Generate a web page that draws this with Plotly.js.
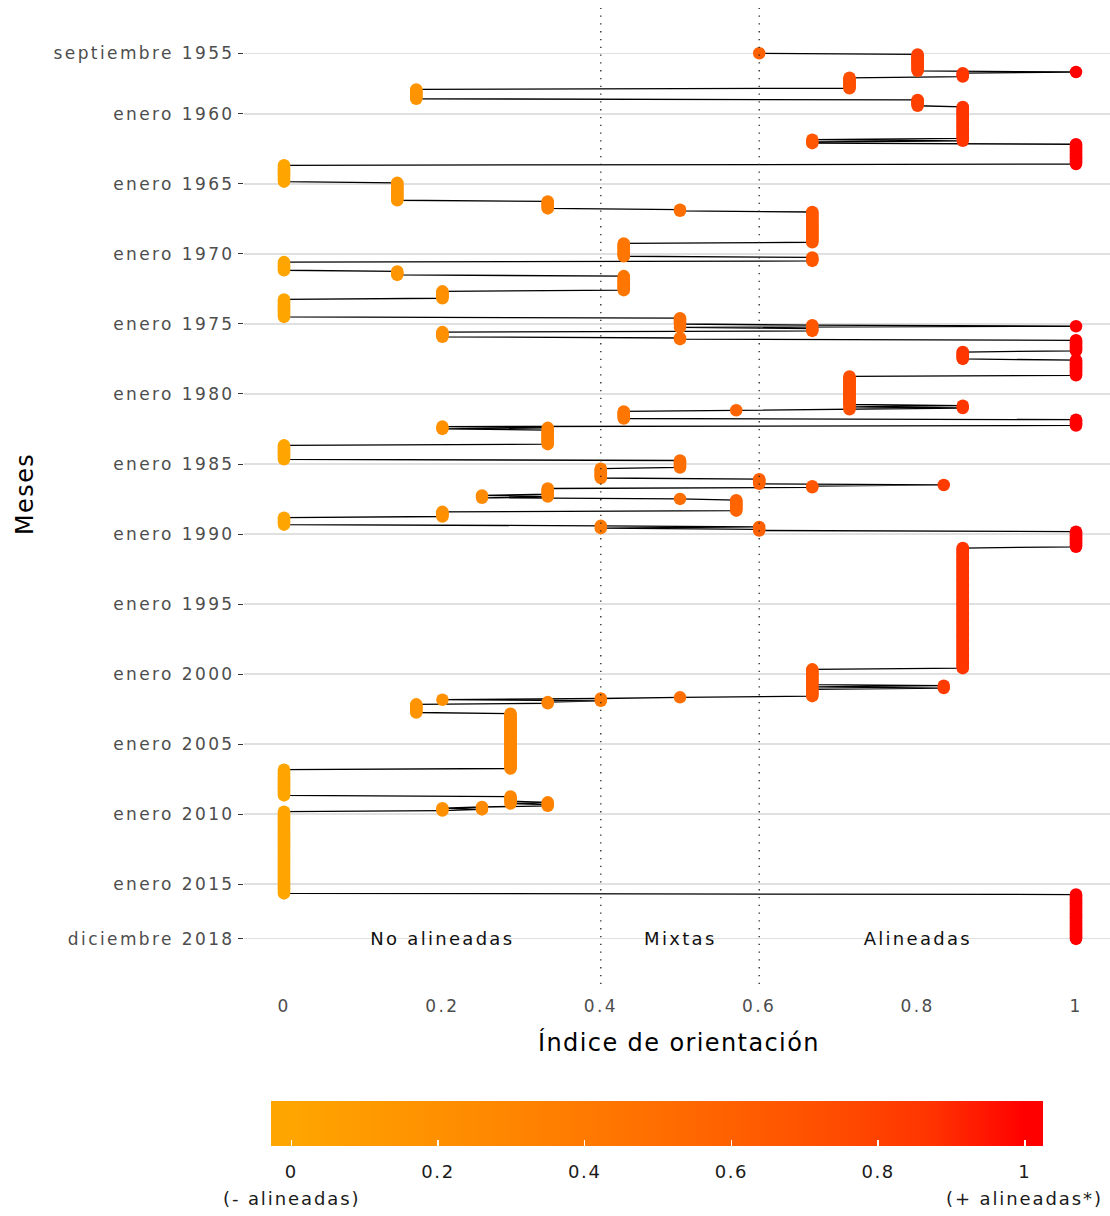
<!DOCTYPE html>
<html><head><meta charset="utf-8">
<script src="https://cdn.plot.ly/plotly-3.0.1.min.js"></script>
<style>
body{margin:0;background:#fff}
#chart{width:1110px;height:1216px}
#chart .xtick text,#chart .ytick text{letter-spacing:2.4px}
#chart .colorbar text{letter-spacing:1.6px}
#chart .annotation-text{letter-spacing:2.3px}
</style>
</head><body><div id="chart"></div>
<script>
// Orientation index: month in which the value changes, and the new value
const runStart = ['1955-09','1955-10','1957-01','1957-02','1957-06','1958-04','1959-01','1959-07','1961-11','1961-12',
  '1962-01','1962-03','1963-09','1964-12','1966-04','1966-11','1967-01','1969-04','1970-04','1970-08',
  '1971-04','1971-08','1972-09','1973-04','1974-08','1975-02','1975-03','1975-04','1975-05','1975-08',
  '1976-01','1976-03','1977-01','1977-08','1978-10','1980-11','1980-12','1981-01','1981-02','1981-03',
  '1981-04','1981-11','1982-05','1982-06','1982-07','1982-08','1983-09','1984-10','1985-05','1986-02',
  '1986-07','1986-08','1986-10','1987-04','1987-05','1987-06','1987-07','1987-08','1988-06','1988-11',
  '1989-06','1989-07','1989-08','1989-09','1989-11','1991-01','1999-09','2000-11','2000-12','2001-01',
  '2001-02','2001-09','2001-10','2001-11','2001-12','2002-01','2002-03','2002-11','2006-11','2008-10',
  '2009-03','2009-04','2009-05','2009-07','2009-08','2009-09','2009-10','2009-11','2015-10'];
const runValue = [0.6,0.8,1,0.857,0.714,0.167,0.8,0.857,0.667,0.857,
  0.667,1,0,0.143,0.333,0.5,0.667,0.429,0.667,0,
  0.143,0.429,0.2,0,0.5,0.667,1,0.5,0.667,0.2,
  0.5,1,0.857,1,0.714,0.857,0.714,0.857,0.714,0.571,
  0.429,1,0.2,0.333,0.2,0.333,0,0.5,0.4,0.6,
  0.833,0.667,0.333,0.25,0.333,0.25,0.5,0.571,0.2,0,
  0.4,0.6,0.4,0.6,1,0.857,0.667,0.833,0.667,0.833,
  0.667,0.5,0.4,0.2,0.4,0.333,0.167,0.286,0,0.286,
  0.333,0.286,0.333,0.25,0.2,0.25,0.2,0,1];
const lastMonth = '2018-12';

const yTickDates = ['1955-09-01','1960-01-01','1965-01-01','1970-01-01','1975-01-01','1980-01-01','1985-01-01',
  '1990-01-01','1995-01-01','2000-01-01','2005-01-01','2010-01-01','2015-01-01','2018-12-01'];
const yTickLabels = ['septiembre 1955','enero 1960','enero 1965','enero 1970','enero 1975','enero 1980','enero 1985',
  'enero 1990','enero 1995','enero 2000','enero 2005','enero 2010','enero 2015','diciembre 2018'];
const xTickVals = [0,0.2,0.4,0.6,0.8,1];
const xTickLabels = ['0','0.2','0.4','0.6','0.8','1'];
const zoneLabels = ['No alineadas','Mixtas','Alineadas'];
const zoneCenters = [0.2,0.5,0.8];
const zoneBounds = [0.4,0.6];
const cbTickVals = [0,0.2,0.4,0.6,0.8,1];
const cbTickLabels = ['0','0.2','0.4','0.6','0.8','1'];
const cbEndNotes = ['(- alineadas)','(+ alineadas*)'];
const cbEndValues = [0,1];
const xTitle = 'Índice de orientación';
const yTitle = 'Meses';

// decode runs into the monthly series
function mIdx(s){const p=s.split('-');return (+p[0])*12+(+p[1])-1;}
function mStr(i){const y=Math.floor(i/12),m=i%12+1;return y+'-'+(m<10?'0':'')+m+'-01';}
const months=[], values=[];
for(let i=0;i<runStart.length;i++){
  const a=mIdx(runStart[i]);
  const b=(i+1<runStart.length)?mIdx(runStart[i+1])-1:mIdx(lastMonth);
  for(let k=a;k<=b;k++){months.push(mStr(k));values.push(runValue[i]);}
}

// geometry of the plot area (px)
const W=1110,H=1216,L=244,R=0,T=8,B=232;
const pw=W-L-R, ph=H-T-B;
// colour bar geometry
const cbLeft=271, cbLen=772, cbTop=1101, cbThick=45;
const cmin=-0.0277, cmax=1.0247;
const cbPx=v=>cbLeft+(v-cmin)/(cmax-cmin)*cbLen;

// colour scale orange -> red (Lab-like interpolation), padded so the bar runs slightly past 0 and 1
const stops=[[0,'#FFA500'],[0.25,'#FF8B00'],[0.5,'#FF6E00'],[0.75,'#FF4B00'],[0.875,'#FF3300'],[1,'#FF0000']];
const pos=v=>(v-cmin)/(cmax-cmin);
const colorscale=[[0,'#FFA500']].concat(stops.map(s=>[pos(s[0]),s[1]])).concat([[1,'#FF0000']]);

const font='"DejaVu Sans", sans-serif';
const cbBase={orientation:'h',thicknessmode:'pixels',thickness:cbThick,lenmode:'pixels',len:cbLen,
  x:(cbLeft+cbLen/2-L)/pw,xanchor:'center',y:(T+ph-cbTop)/ph,yanchor:'top',xpad:0,ypad:0,outlinewidth:0,
  tickmode:'array',tickvals:cbTickVals};

const lineTrace={x:values,y:months,type:'scatter',mode:'lines',line:{color:'#000',width:1.3},hoverinfo:'skip',showlegend:false};
const pointTrace={x:values,y:months,type:'scatter',mode:'markers',showlegend:false,
  marker:{size:12.5,color:values,cmin:cmin,cmax:cmax,colorscale:colorscale,line:{width:0},
    colorbar:Object.assign({},cbBase,{ticktext:cbTickLabels,ticks:'outside',ticklen:11,tickcolor:'rgba(0,0,0,0)',
      tickfont:{family:font,size:18,color:'#1a1a1a'}})}};
// white tick marks drawn inside the colour bar (bottom and top edges)
const tickTraceBottom={x:[null],y:[null],type:'scatter',mode:'markers',showlegend:false,hoverinfo:'skip',
  marker:{color:[0],cmin:cmin,cmax:cmax,colorscale:colorscale,
    colorbar:Object.assign({},cbBase,{ticks:'inside',ticklen:6,tickwidth:1.5,tickcolor:'#fff',showticklabels:false})}};
const tickTraceTop={x:[null],y:[null],type:'scatter',mode:'markers',showlegend:false,hoverinfo:'skip',
  marker:{color:[0],cmin:cmin,cmax:cmax,colorscale:colorscale,
    colorbar:Object.assign({},cbBase,{ticks:'inside',ticklen:6,tickwidth:1.5,tickcolor:'#fff',showticklabels:false,ticklabelposition:'outside top'})}};

const shapes=zoneBounds.map(b=>({type:'line',xref:'x',yref:'paper',x0:b,x1:b,y0:0,y1:1,layer:'above',
  line:{color:'#222',width:1.3,dash:'1.3px,6.5px'}}));
const annotations=zoneLabels.map((t,i)=>({text:t,x:zoneCenters[i],y:'2018-12-01',xref:'x',yref:'y',showarrow:false,
  font:{family:font,size:18,color:'#111'}}));
cbEndNotes.forEach((t,i)=>annotations.push({text:'<span style="letter-spacing:1.9px">'+t+'</span>',
  x:(cbPx(cbEndValues[i])-L)/pw,y:(T+ph-1198)/ph,xref:'paper',yref:'paper',showarrow:false,
  xanchor:'center',yanchor:'middle',font:{family:font,size:18,color:'#1a1a1a'}}));
annotations.push({text:'<span style="letter-spacing:1.4px">'+xTitle+'</span>',x:(679-L)/pw,y:(T+ph-1042)/ph,
  xref:'paper',yref:'paper',showarrow:false,xanchor:'center',yanchor:'middle',font:{family:font,size:24,color:'#000'}});
annotations.push({text:'<span style="letter-spacing:1.4px">'+yTitle+'</span>',x:(25-L)/pw,y:(T+ph-494)/ph,textangle:-90,
  xref:'paper',yref:'paper',showarrow:false,xanchor:'center',yanchor:'middle',font:{family:font,size:24,color:'#000'}});

const layout={width:W,height:H,margin:{l:L,r:R,t:T,b:B},paper_bgcolor:'#fff',plot_bgcolor:'#fff',
  font:{family:font},
  xaxis:{range:[-0.0505,1.0429],tickmode:'array',tickvals:xTickVals,ticktext:xTickLabels,showgrid:false,zeroline:false,
    ticks:'',tickfont:{family:font,size:17,color:'#4D4D4D'},ticklabelstandoff:10},
  yaxis:{type:'date',range:['2022-02-20','1952-06-07'],tickmode:'array',tickvals:yTickDates,ticktext:yTickLabels,
    showgrid:true,gridcolor:'#E0E0E0',gridwidth:1.2,zeroline:false,ticks:'outside',ticklen:5,tickcolor:'#333',
    tickfont:{family:font,size:17,color:'#4D4D4D'}},
  shapes:shapes,annotations:annotations};

Plotly.newPlot('chart',[lineTrace,pointTrace,tickTraceBottom,tickTraceTop],layout,{displayModeBar:false,staticPlot:true});
</script></body></html>
